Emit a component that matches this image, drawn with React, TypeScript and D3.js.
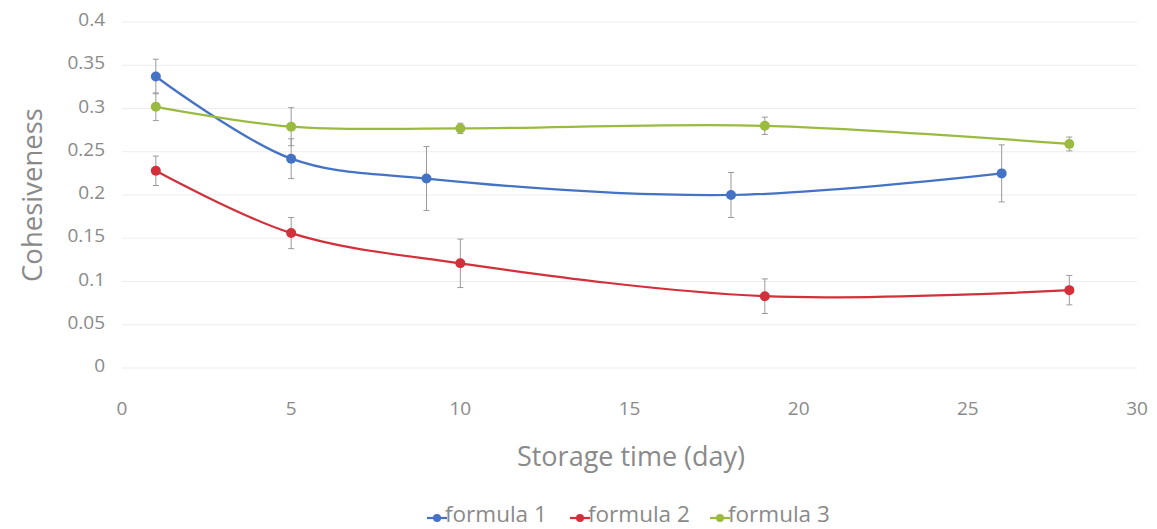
import React from "react";
import * as d3 from "d3";

const days1 = [1, 5, 9, 18, 26];
const vals1 = [0.337, 0.242, 0.219, 0.2, 0.225];
const err1 = [0.02, 0.023, 0.037, 0.026, 0.033];

const days2 = [1, 5, 10, 19, 28];
const vals2 = [0.228, 0.156, 0.121, 0.083, 0.09];
const err2 = [0.017, 0.018, 0.028, 0.02, 0.017];

const days3 = [1, 5, 10, 19, 28];
const vals3 = [0.302, 0.279, 0.277, 0.28, 0.259];
const err3 = [0.016, 0.022, 0.006, 0.01, 0.008];

const seriesNames = ["formula 1", "formula 2", "formula 3"];
const colors = ["#4472C4", "#D2303A", "#9BBB40"];
const xTicks = [0, 5, 10, 15, 20, 25, 30];
const yTicks = [0, 0.05, 0.1, 0.15, 0.2, 0.25, 0.3, 0.35, 0.4];

const W = 1157;
const H = 529;
const FONT = "'Open Sans', 'Noto Sans', sans-serif";
const GRAY = "#8a8a8a";

export default function App() {
  const x = d3.scaleLinear().domain([0, 30]).range([122, 1137]);
  const y = d3.scaleLinear().domain([0, 0.4]).range([368, 22]);
  const series = [
    { d: days1, v: vals1, e: err1 },
    { d: days2, v: vals2, e: err2 },
    { d: days3, v: vals3, e: err3 },
  ];
  const line = d3
    .line<[number, number]>()
    .x((p) => x(p[0]))
    .y((p) => y(p[1]))
    .curve(d3.curveCatmullRom.alpha(0.5));

  const legendX = [437, 580, 720];

  return (
    <svg
      width={W}
      height={H}
      style={{ position: "absolute", left: 0, top: 0, background: "#fff" }}
    >
      {yTicks.map((t) => (
        <g key={"y" + t}>
          <line x1={x(0)} x2={x(30)} y1={y(t)} y2={y(t)} stroke="#ededed" strokeWidth={1} />
          <text
            x={105}
            y={y(t) - 2}
            dy="0.32em"
            textAnchor="end"
            fontFamily={FONT}
            fontSize={19}
            fill={GRAY}
          >
            {t === 0 ? "0" : String(t)}
          </text>
        </g>
      ))}
      {xTicks.map((t) => (
        <text
          key={"x" + t}
          x={x(t)}
          y={409}
          dy="0.32em"
          textAnchor="middle"
          fontFamily={FONT}
          fontSize={19}
          fill={GRAY}
        >
          {t}
        </text>
      ))}
      <text
        transform={`translate(33,${195}) rotate(-90)`}
        textAnchor="middle"
        dy="0.32em"
        fontFamily={FONT}
        fontSize={27.5}
        fill={GRAY}
      >
        Cohesiveness
      </text>
      <text
        x={631}
        y={457}
        dy="0.32em"
        textAnchor="middle"
        fontFamily={FONT}
        fontSize={27}
        fill={GRAY}
      >
        Storage time (day)
      </text>

      {series.map((s, i) => (
        <g key={"err" + i}>
          {s.d.map((d, j) => (
            <g key={j} stroke="#9a9a9a" strokeWidth={1}>
              <line x1={x(d)} x2={x(d)} y1={y(s.v[j] + s.e[j])} y2={y(s.v[j] - s.e[j])} />
              <line x1={x(d) - 3} x2={x(d) + 3} y1={y(s.v[j] + s.e[j])} y2={y(s.v[j] + s.e[j])} />
              <line x1={x(d) - 3} x2={x(d) + 3} y1={y(s.v[j] - s.e[j])} y2={y(s.v[j] - s.e[j])} />
            </g>
          ))}
        </g>
      ))}

      {series.map((s, i) => (
        <g key={"s" + i}>
          <path
            d={line(s.d.map((d, j) => [d, s.v[j]] as [number, number])) || ""}
            fill="none"
            stroke={colors[i]}
            strokeWidth={2.25}
          />
          {s.d.map((d, j) => (
            <circle key={j} cx={x(d)} cy={y(s.v[j])} r={5} fill={colors[i]} />
          ))}
        </g>
      ))}

      {seriesNames.map((n, i) => (
        <g key={"lg" + i}>
          <line
            x1={legendX[i] - 10}
            x2={legendX[i] + 10}
            y1={518}
            y2={518}
            stroke={colors[i]}
            strokeWidth={2.25}
          />
          <circle cx={legendX[i]} cy={518} r={4} fill={colors[i]} />
          <text
            x={legendX[i] + 8}
            y={515}
            dy="0.32em"
            fontFamily={FONT}
            fontSize={22.5}
            fill={GRAY}
          >
            {n}
          </text>
        </g>
      ))}
    </svg>
  );
}
